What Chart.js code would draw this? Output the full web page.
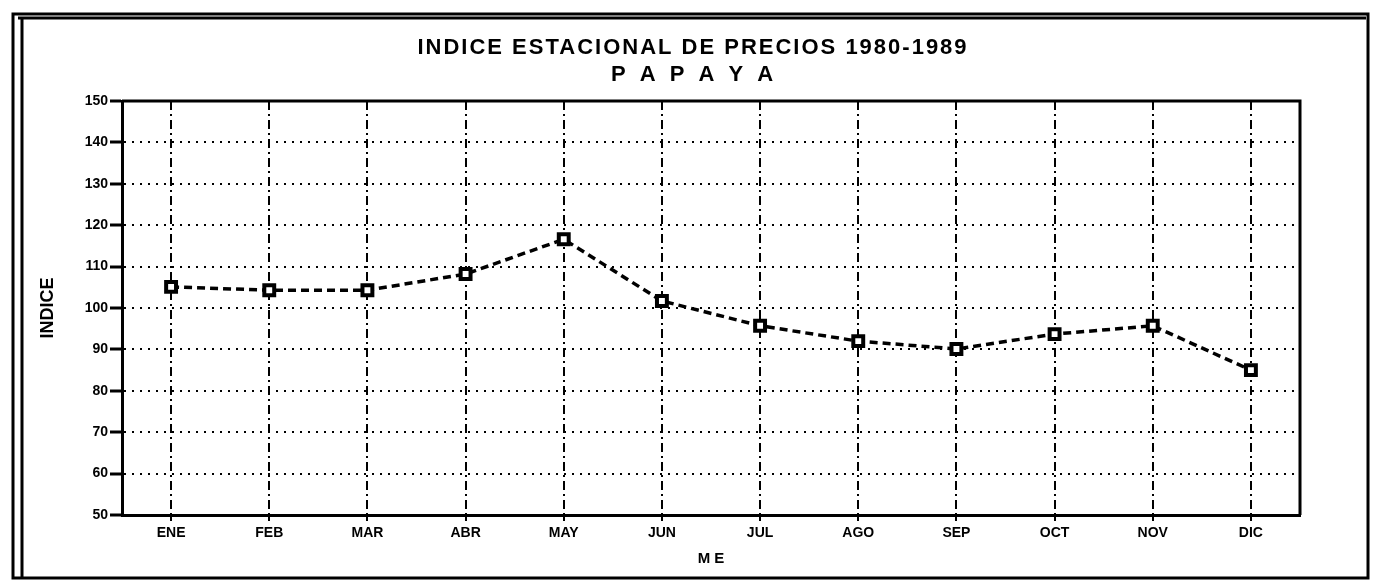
<!DOCTYPE html>
<html>
<head>
<meta charset="utf-8">
<script src="https://cdn.jsdelivr.net/npm/chart.js@4.4.1/dist/chart.umd.min.js"></script>
<style>
  html, body { margin: 0; padding: 0; background: #fff; }
  canvas { display: block; }
</style>
</head>
<body>
<canvas id="papayaChart" width="1374" height="588"></canvas>
<script>
// datos
const meses = ['ENE', 'FEB', 'MAR', 'ABR', 'MAY', 'JUN', 'JUL', 'AGO', 'SEP', 'OCT', 'NOV', 'DIC'];
const indice = [105.1, 104.3, 104.3, 108.2, 116.6, 101.7, 95.7, 92.0, 90.1, 93.7, 95.7, 85.0];
const yMin = 50;
const yMax = 150;
const yStep = 10;
const titulo = ['INDICE ESTACIONAL DE PRECIOS 1980-1989', 'P A P A Y A'];

document.addEventListener('DOMContentLoaded', function() {
    const ctx = document.getElementById('papayaChart').getContext('2d');

    // marco exterior, borde del area y titulo
    const framePlugin = {
        id: 'frame',
        beforeDraw(chart) {
            const c = chart.ctx;
            c.save();
            c.fillStyle = '#fff';
            c.fillRect(0, 0, chart.width, chart.height);
            c.strokeStyle = '#000';
            c.lineWidth = 3;
            c.strokeRect(13, 14, 1355, 564);
            c.beginPath();
            c.moveTo(22, 18);
            c.lineTo(22, 578);
            c.moveTo(18, 18);
            c.lineTo(1366, 18);
            c.stroke();
            c.restore();
        },
        afterDraw(chart) {
            const c = chart.ctx;
            const a = chart.chartArea;
            c.save();
            c.strokeStyle = '#000';
            c.lineWidth = 3;
            c.beginPath();
            c.moveTo(a.left, a.top);
            c.lineTo(a.right, a.top);
            c.lineTo(a.right, a.bottom);
            c.stroke();
            c.fillStyle = '#000';
            c.textAlign = 'center';
            c.textBaseline = 'middle';
            c.font = 'bold 22px "Liberation Sans", Arial, sans-serif';
            c.letterSpacing = '2px';
            c.fillText(titulo[0], 693, 48);
            c.letterSpacing = '4px';
            c.fillText(titulo[1], 694, 75);
            c.restore();
        }
    };

    const fuente = '"Liberation Sans", Arial, sans-serif';

    new Chart(ctx, {
        type: 'line',
        data: {
            labels: meses,
            datasets: [{
                label: 'Indice',
                data: indice,
                borderColor: '#000',
                borderWidth: 3.5,
                borderDash: [8, 5],
                pointStyle: 'rect',
                pointRadius: 7,
                pointBorderWidth: 4,
                pointBackgroundColor: '#fff',
                pointBorderColor: '#000',
                tension: 0,
                fill: false
            }]
        },
        options: {
            responsive: false,
            animation: false,
            layout: { padding: { top: 101, right: 74, bottom: 0, left: 0 } },
            plugins: {
                legend: { display: false },
                tooltip: { enabled: false }
            },
            scales: {
                x: {
                    offset: true,
                    afterFit: function(scale) { scale.height = 73; },
                    grid: {
                        offset: false,
                        color: '#000',
                        lineWidth: 2,
                        tickLength: 6,
                        tickColor: '#000',
                        tickWidth: 2,
                        tickBorderDash: []
                    },
                    border: { display: true, color: '#000', width: 3, dash: [9, 4, 2, 4] },
                    ticks: {
                        color: '#000',
                        padding: 4,
                        maxRotation: 0,
                        font: { family: fuente, size: 14, weight: 'bold' }
                    },
                    title: {
                        display: true,
                        text: 'M E',
                        color: '#000',
                        padding: { top: 0, bottom: 20 },
                        font: { family: fuente, size: 15, weight: 'bold' }
                    }
                },
                y: {
                    min: yMin,
                    max: yMax,
                    afterFit: function(scale) { scale.width = 122; },
                    grid: {
                        color: '#000',
                        lineWidth: 2,
                        tickLength: 12,
                        tickColor: '#000',
                        tickWidth: 3,
                        tickBorderDash: []
                    },
                    border: { display: true, color: '#000', width: 3, dash: [2, 6] },
                    ticks: {
                        stepSize: yStep,
                        color: '#000',
                        padding: 2,
                        font: { family: fuente, size: 14, weight: 'bold' }
                    },
                    title: {
                        display: true,
                        text: 'INDICE',
                        color: '#000',
                        padding: { top: 37, bottom: 0 },
                        font: { family: fuente, size: 18, weight: 'bold' }
                    }
                }
            }
        },
        plugins: [framePlugin]
    });
});
</script>
</body>
</html>
